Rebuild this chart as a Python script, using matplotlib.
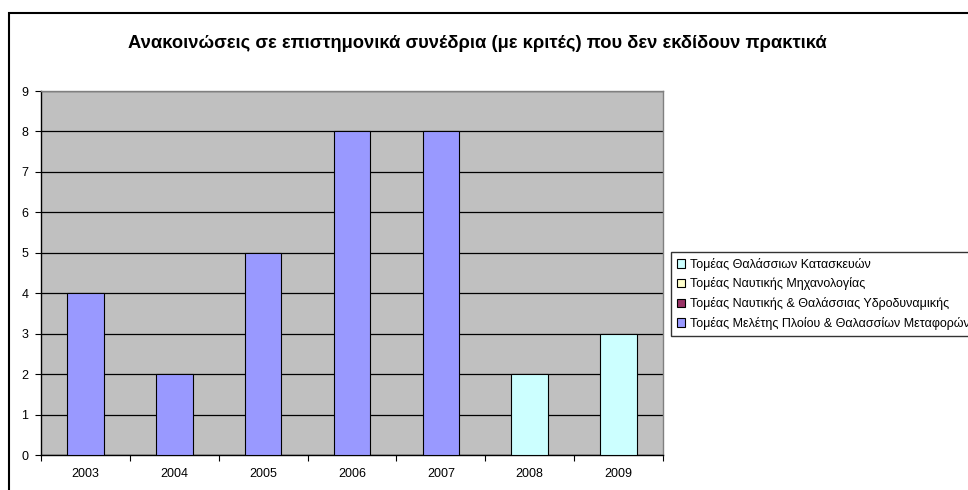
import matplotlib.pyplot as plt
from matplotlib.patches import Patch, Rectangle

plt.rcParams['font.family'] = ['Liberation Sans', 'DejaVu Sans']

years = ['2003', '2004', '2005', '2006', '2007', '2008', '2009']
values = [4, 2, 5, 8, 8, 2, 3]
# which department each bar belongs to (index into departments)
owner = [3, 3, 3, 3, 3, 0, 0]

departments = ['Τομέας Θαλάσσιων Κατασκευών',
               'Τομέας Ναυτικής Μηχανολογίας',
               'Τομέας Ναυτικής & Θαλάσσιας Υδροδυναμικής',
               'Τομέας Μελέτης Πλοίου & Θαλασσίων Μεταφορών']
colors = ['#CCFFFF', '#FFFFCC', '#993366', '#9999FF']

title = 'Ανακοινώσεις σε επιστημονικά συνέδρια (με κριτές) που δεν εκδίδουν πρακτικά'

W, H = 968, 490
fig = plt.figure(figsize=(W / 100, H / 100), dpi=100)

# outer chart frame (runs off the right and bottom edges)
fig.add_artist(Rectangle((9 / W, -0.2), 1.2, 1.2 - 13 / H,
                         transform=fig.transFigure, fill=False,
                         edgecolor='black', lw=1.5))

ax = fig.add_axes([41 / W, 1 - 455 / H, (663 - 41) / W, (455 - 91) / H])
ax.set_facecolor('#C0C0C0')

x = list(range(len(years)))
ax.bar(x, values, width=0.41, color=[colors[i] for i in owner],
       edgecolor='black', linewidth=0.8, zorder=3)

ax.set_xlim(-0.5, len(years) - 0.5)
ax.set_ylim(0, 9)
ax.set_yticks(range(10))
ax.yaxis.grid(True, color='black', linewidth=0.9, zorder=1)
ax.set_axisbelow(True)

ax.set_xticks(x)
ax.set_xticklabels(years)
ax.set_xticks([i + 0.5 for i in range(-1, len(years))], minor=True)
ax.tick_params(axis='x', which='major', length=0, pad=9, labelsize=9)
ax.tick_params(axis='x', which='minor', length=4, direction='out', width=0.8)
ax.tick_params(axis='y', length=4, direction='out', width=0.8, labelsize=9, pad=5)

ax.spines['left'].set_color('black')
ax.spines['bottom'].set_color('black')
ax.spines['top'].set_color('#808080')
ax.spines['right'].set_color('#808080')
for s in ax.spines.values():
    s.set_linewidth(1.0)

fig.text(477 / W, 1 - 44 / H, title, ha='center', va='center',
         fontsize=13.2, fontweight='bold')

handles = [Patch(facecolor=c, edgecolor='black', linewidth=0.8) for c in colors]
fig.legend(handles, departments, loc='upper left',
           bbox_to_anchor=(671 / W, 1 - 252 / H), fontsize=9,
           frameon=True, fancybox=False, edgecolor='black',
           handlelength=0.7, handleheight=0.7, handletextpad=0.35,
           labelspacing=0.55, borderpad=0.45, borderaxespad=0)

fig.savefig('out.png', dpi=100)
